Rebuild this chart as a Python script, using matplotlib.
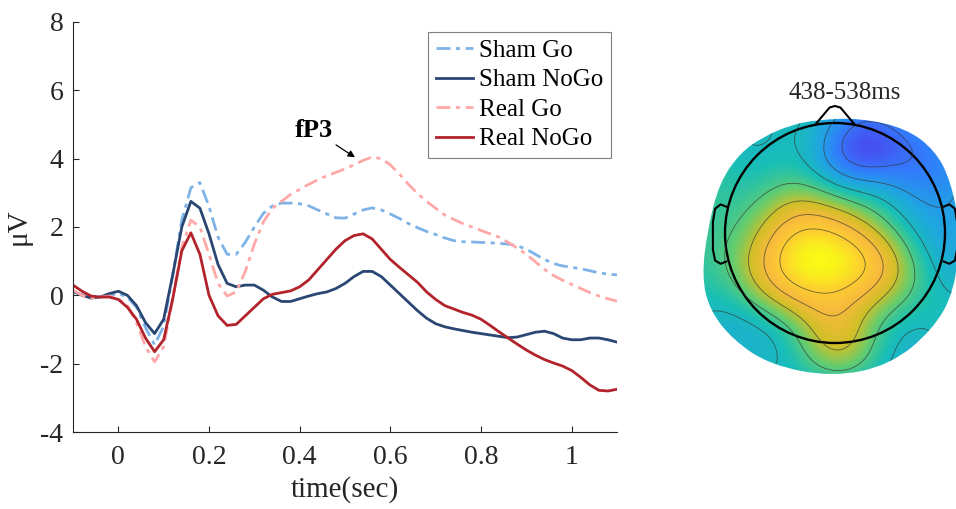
import numpy as np
import matplotlib.pyplot as plt
from matplotlib.colors import LinearSegmentedColormap
from matplotlib.path import Path
from matplotlib.patches import PathPatch, Circle

plt.rcParams['font.family'] = ['Liberation Serif', 'DejaVu Serif']
plt.rcParams['axes.unicode_minus'] = False

# ERP waveforms, sampled every 20 ms
t = np.round(np.arange(-0.1, 1.1001, 0.02), 2)

sham_go = [0.10, 0.02, -0.05, -0.05, 0.00, 0.05, -0.05, -0.35, -0.95, -1.45,
           -0.90, 0.60, 2.20, 3.15, 3.30, 2.60, 1.70, 1.20, 1.20, 1.55,
           2.00, 2.40, 2.62, 2.70, 2.70, 2.68, 2.62, 2.50, 2.38, 2.27,
           2.26, 2.38, 2.50, 2.56, 2.50, 2.38, 2.25, 2.10, 1.98, 1.87,
           1.78, 1.68, 1.60, 1.57, 1.56, 1.55, 1.54, 1.52, 1.50, 1.45,
           1.35, 1.20, 1.05, 0.93, 0.86, 0.82, 0.78, 0.72, 0.66, 0.62, 0.60]
sham_nogo = [0.12, 0.00, -0.08, -0.05, 0.05, 0.12, 0.00, -0.30, -0.80, -1.12,
             -0.70, 0.60, 2.00, 2.75, 2.55, 1.80, 0.90, 0.35, 0.25, 0.30,
             0.30, 0.15, -0.05, -0.18, -0.18, -0.10, -0.02, 0.05, 0.10, 0.20,
             0.35, 0.55, 0.70, 0.70, 0.55, 0.30, 0.05, -0.20, -0.45, -0.67,
             -0.83, -0.92, -0.98, -1.03, -1.08, -1.12, -1.16, -1.20, -1.24, -1.22,
             -1.15, -1.08, -1.05, -1.12, -1.25, -1.30, -1.30, -1.25, -1.25, -1.30, -1.37]
real_go = [0.15, 0.00, -0.08, -0.05, -0.02, -0.10, -0.30, -0.80, -1.50, -1.95,
           -1.50, -0.10, 1.40, 2.20, 2.00, 1.20, 0.35, -0.02, 0.10, 0.70,
           1.50, 2.15, 2.55, 2.75, 2.95, 3.10, 3.25, 3.38, 3.50, 3.60,
           3.70, 3.82, 3.95, 4.05, 4.00, 3.82, 3.55, 3.25, 2.98, 2.75,
           2.55, 2.35, 2.22, 2.10, 2.00, 1.90, 1.80, 1.70, 1.55, 1.38,
           1.20, 0.98, 0.76, 0.58, 0.44, 0.32, 0.20, 0.08, -0.02, -0.10, -0.17]
real_nogo = [0.30, 0.12, -0.02, -0.05, -0.05, -0.12, -0.35, -0.70, -1.25, -1.65,
             -1.30, -0.10, 1.30, 1.83, 1.20, 0.00, -0.60, -0.88, -0.85, -0.60,
             -0.35, -0.10, 0.03, 0.08, 0.13, 0.25, 0.45, 0.75, 1.05, 1.35,
             1.60, 1.75, 1.80, 1.65, 1.35, 1.05, 0.82, 0.60, 0.38, 0.10,
             -0.12, -0.30, -0.40, -0.50, -0.58, -0.70, -0.88, -1.07, -1.25, -1.43,
             -1.60, -1.75, -1.88, -1.98, -2.07, -2.20, -2.40, -2.62, -2.78, -2.80, -2.75]

labels = ['Sham Go', 'Sham NoGo', 'Real Go', 'Real NoGo']
colors = ['#7fb3e8', '#2a4672', '#ffa8a8', '#b3232b']
styles = [(0, (5, 2, 1.5, 2)), '-', (0, (5, 2, 1.5, 2)), '-']

xticks = [0, 0.2, 0.4, 0.6, 0.8, 1]
xticklabels = ['0', '0.2', '0.4', '0.6', '0.8', '1']
yticks = [-4, -2, 0, 2, 4, 6, 8]

# topography at 438-538 ms: sample positions (head units) and normalised amplitude
ex = [-0.10, -0.30, 0.10, -0.10, -0.10, 0.20, -0.40,
      -0.60, 0.45, -0.10, -0.30, 0.30, -0.10,
      -0.85, 0.65, -0.70, -0.50, 0.00, -0.35, -0.10,
      0.15, 0.45, 0.70, 0.00, 0.90, 0.95, 0.50, 0.20,
      0.80, 1.05, 0.80, 0.40,
      0.00, -0.35, -0.80, -1.10, -1.00, -0.65, 0.00, 0.45, -0.55, 1.10,
      0.00, 0.00]
ey = [-0.25, -0.20, -0.20, 0.00, -0.45, -0.40, -0.45,
      -0.30, -0.30, 0.20, 0.10, 0.00, -0.70,
      -0.30, -0.35, 0.20, 0.45, 0.35, 0.75, 0.95,
      0.70, 0.75, 0.65, 0.80, 0.45, 0.20, 0.45, 0.45,
      -0.10, -0.30, -0.70, -0.90,
      -1.00, -0.95, -0.80, -0.30, 0.35, 0.80, -1.25, -1.10, -1.10, 0.05,
      -0.85, -1.12]
ev = [1.00, 0.96, 0.96, 0.88, 0.93, 0.87, 0.87,
      0.80, 0.77, 0.72, 0.82, 0.70, 0.78,
      0.60, 0.58, 0.57, 0.52, 0.50, 0.42, 0.33,
      0.13, 0.15, 0.20, 0.27, 0.26, 0.32, 0.30, 0.38,
      0.42, 0.38, 0.45, 0.52,
      0.70, 0.52, 0.42, 0.50, 0.48, 0.42, 0.52, 0.45, 0.42, 0.33,
      0.72, 0.62]

# outline of the interpolated area
blob_x = [-0.41, -0.66, -0.86, -1.05, -1.16, -1.21, -1.14, -0.93, -0.59, -0.02,
          0.50, 0.89, 1.09, 1.14, 1.05, 0.91, 0.65, 0.23, -0.16]
blob_y = [0.98, 0.87, 0.73, 0.46, 0.03, -0.40, -0.70, -0.97, -1.20, -1.31,
          -1.20, -0.88, -0.52, 0.03, 0.48, 0.75, 0.95, 1.045, 1.03]

parula = LinearSegmentedColormap.from_list('parula', [
    (0.2422, 0.1504, 0.6603), (0.2813, 0.3006, 0.9414), (0.1963, 0.4847, 0.9892),
    (0.1248, 0.6459, 0.8883), (0.0964, 0.7500, 0.7120), (0.3909, 0.8029, 0.4354),
    (0.8203, 0.7498, 0.1535), (0.9728, 0.7298, 0.2394), (0.9892, 0.8136, 0.1885),
    (0.9769, 0.9839, 0.0805)])

W, H = 956, 509
fig = plt.figure(figsize=(W / 100, H / 100), dpi=100)

ax = fig.add_axes([73 / W, 1 - 432 / H, 544 / W, 410 / H])
for y, lab, c, ls in zip([sham_go, sham_nogo, real_go, real_nogo], labels, colors, styles):
    ax.plot(t, y, color=c, linestyle=ls, lw=2, label=lab, solid_joinstyle='round')
ax.set_xlim(-0.1, 1.1)
ax.set_ylim(-4, 8)
ax.set_xticks(xticks)
ax.set_xticklabels(xticklabels)
ax.set_yticks(yticks)
ax.tick_params(direction='in', length=4, labelsize=20, colors='#262626', width=0.8)
ax.tick_params(axis='x', pad=9)
ax.tick_params(axis='y', pad=7)
for s in ['top', 'right']:
    ax.spines[s].set_visible(False)
for s in ['left', 'bottom']:
    ax.spines[s].set_color('#262626')
    ax.spines[s].set_linewidth(0.8)
ax.set_xlabel('time(sec)', fontsize=21, color='#262626', labelpad=5)
ax.set_ylabel('μV', fontsize=21, color='#262626', labelpad=6)
ax.annotate('fP3', xy=(0.522, 4.04), xytext=(0.432, 4.82), fontsize=19, fontweight='bold',
            ha='center', va='center',
            arrowprops=dict(arrowstyle='-|>', color='k', lw=0.9, mutation_scale=10,
                            shrinkA=0, shrinkB=0))
leg = ax.legend(loc='upper left', bbox_to_anchor=(0.653, 0.976), borderaxespad=0,
                fontsize=18, handlelength=1.5, handletextpad=0.25, labelspacing=0.28,
                borderpad=0.3, fancybox=False, framealpha=1)
leg.get_frame().set_edgecolor('#7f7f7f')
leg.get_frame().set_linewidth(0.8)

# topographic map
cx, cy, r = 835, 233, 110
tx = fig.add_axes([690 / W, 1 - 390 / H, 266 / W, 310 / H])
tx.set_xlim((690 - cx) / r, (956 - cx) / r)
tx.set_ylim(-(390 - cy) / r, (cy - 80) / r)
tx.axis('off')

px, py, pv = np.array(ex), np.array(ey), np.array(ev)
base = 0.45
eps = 0.5
d = np.hypot(px[:, None] - px[None, :], py[:, None] - py[None, :])
K = np.exp(-(d / eps) ** 2) + 0.02 * np.eye(len(px))
w = np.linalg.solve(K, pv - base)
gx, gy = np.meshgrid(np.linspace(-1.3, 1.3, 300), np.linspace(-1.4, 1.2, 300))
dg = np.hypot(gx[..., None] - px, gy[..., None] - py)
field = base + np.exp(-(dg / eps) ** 2) @ w

# smooth closed outline through the edge points
pts = np.column_stack([blob_x, blob_y])
mids = (pts + np.roll(pts, -1, axis=0)) / 2
verts = [mids[-1]]
codes = [Path.MOVETO]
for i in range(len(pts)):
    verts += [pts[i], mids[i]]
    codes += [Path.CURVE3, Path.CURVE3]
clip = PathPatch(Path(verts, codes), transform=tx.transData,
                 facecolor='none', edgecolor='none')
tx.add_patch(clip)
im = tx.imshow(field, extent=(-1.3, 1.3, -1.4, 1.2), origin='lower', cmap=parula,
               vmin=0.0, vmax=1.0, interpolation='bilinear')
im.set_clip_path(clip)
cs = tx.contour(gx, gy, field, levels=[0.2, 0.31, 0.42, 0.53, 0.65, 0.76, 0.87],
                colors='#333333', linewidths=0.6, alpha=0.7)
cs.set_clip_path(clip)

tx.add_patch(Circle((0, 0), 1, fill=False, lw=1.7, color='k'))
tx.plot([-0.18, -0.05, 0, 0.05, 0.18], [0.985, 1.14, 1.155, 1.14, 0.985], color='k', lw=1.5)
ear_x = np.array([0.99, 1.04, 1.09, 1.11, 1.11, 1.09, 1.04, 0.99])
ear_y = np.array([0.24, 0.26, 0.22, 0.10, -0.15, -0.25, -0.28, -0.26])
tx.plot(-ear_x, ear_y, color='k', lw=1.5)
tx.plot(ear_x, ear_y, color='k', lw=1.5, clip_on=False)
tx.text(0.09, 1.27, '438-538ms', ha='center', va='center', fontsize=18, color='#262626')

fig.savefig('out.png', dpi=100)
